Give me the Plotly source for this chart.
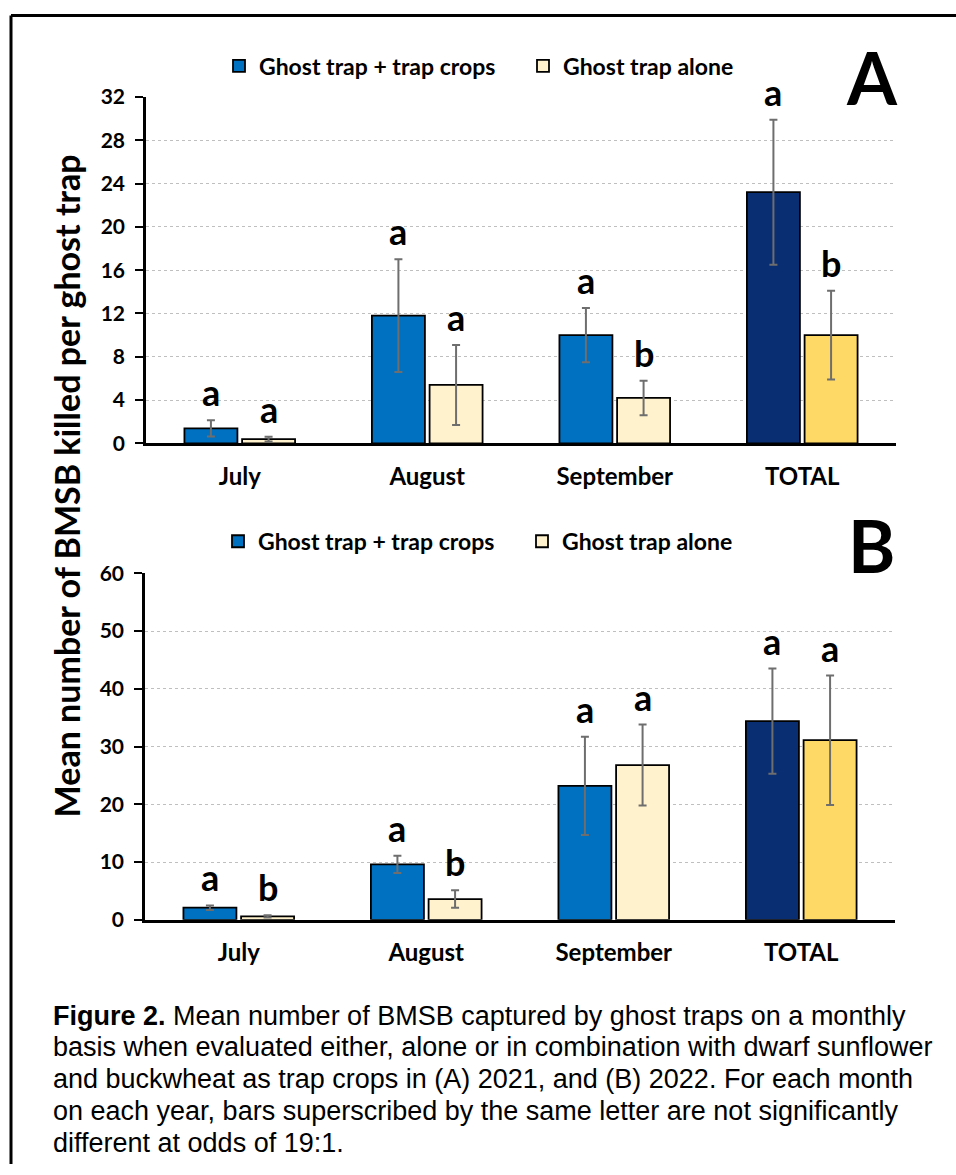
import plotly.graph_objects as go

# ---------------- data ----------------
months = ["July", "August", "September", "TOTAL"]
series_names = ["Ghost trap + trap crops", "Ghost trap alone"]

# Panel A (2021)
a_combo = [1.4, 11.8, 10.0, 23.2]
a_combo_err = [0.75, 5.2, 2.5, 6.7]
a_alone = [0.4, 5.4, 4.2, 10.0]
a_alone_err = [0.22, 3.7, 1.6, 4.1]
a_combo_letters = ["a", "a", "a", "a"]
a_alone_letters = ["a", "a", "b", "b"]

# Panel B (2022)
b_combo = [2.1, 9.6, 23.2, 34.4]
b_combo_err = [0.4, 1.5, 8.5, 9.1]
b_alone = [0.6, 3.6, 26.8, 31.1]
b_alone_err = [0.2, 1.5, 7.0, 11.2]
b_combo_letters = ["a", "a", "a", "a"]
b_alone_letters = ["b", "b", "a", "a"]

a_ticks = [0, 4, 8, 12, 16, 20, 24, 28, 32]
b_ticks = [0, 10, 20, 30, 40, 50, 60]

combo_colors = ["#0070C0", "#0070C0", "#0070C0", "#0A2E72"]
alone_colors = ["#FFF2CC", "#FFF2CC", "#FFF2CC", "#FFD966"]

caption_lines = [
    "<b>Figure 2.</b> Mean number of BMSB captured by ghost traps on a monthly",
    "basis when evaluated either, alone or in combination with dwarf sunflower",
    "and buckwheat as trap crops in (A) 2021, and (B) 2022. For each month",
    "on each year, bars superscribed by the same letter are not significantly",
    "different at odds of 19:1.",
]

FONT = "Lato"
W, H = 956, 1175
ERR_COLOR = "#6E6E6E"


def px_x(p):
    return p / W


def vy(p):
    # vertical page position (px from top) -> paper fraction,
    # compensating the small vertical offset/scale seen in the rendered picture
    return 1 - ((p - 12) / 0.98) / H


fig = go.Figure()


def add_bar(x, y, err, colors, name, xa, ya, legend):
    fig.add_trace(go.Bar(
        x=x, y=y, name=name, xaxis=xa, yaxis=ya, legend=legend,
        marker=dict(color=colors, line=dict(color="#000000", width=1.8)),
        error_y=dict(type="data", array=err, visible=True,
                     color=ERR_COLOR, thickness=2, width=4),
    ))


add_bar(months, a_combo, a_combo_err, combo_colors, series_names[0], "x", "y", "legend")
add_bar(months, a_alone, a_alone_err, alone_colors, series_names[1], "x", "y", "legend")
add_bar(months, b_combo, b_combo_err, combo_colors, series_names[0], "x2", "y2", "legend2")
add_bar(months, b_alone, b_alone_err, alone_colors, series_names[1], "x2", "y2", "legend2")

annotations = []


def add_letters(vals, errs, letters, xref, yref, shift):
    for m, v, e, t in zip(months, vals, errs, letters):
        annotations.append(dict(
            x=m, y=v + e, xref=xref, yref=yref, text="<b>" + t + "</b>", showarrow=False,
            xanchor="center", yanchor="bottom", xshift=shift, yshift=4,
            font=dict(family=FONT, size=36, color="#000000"),
        ))


SH = 28.8
add_letters(a_combo, a_combo_err, a_combo_letters, "x", "y", -SH)
add_letters(a_alone, a_alone_err, a_alone_letters, "x", "y", SH)
add_letters(b_combo, b_combo_err, b_combo_letters, "x2", "y2", -SH)
add_letters(b_alone, b_alone_err, b_alone_letters, "x2", "y2", SH)

# panel labels
annotations.append(dict(x=px_x(872), y=vy(75), xref="paper", yref="paper", text="<b>A</b>",
                        showarrow=False, xanchor="center", yanchor="middle",
                        font=dict(family=FONT, size=72, color="#000000")))
annotations.append(dict(x=px_x(871), y=vy(544), xref="paper", yref="paper", text="<b>B</b>",
                        showarrow=False, xanchor="center", yanchor="middle",
                        font=dict(family=FONT, size=72, color="#000000")))
# shared y-axis title
annotations.append(dict(x=px_x(66), y=vy(485), xref="paper", yref="paper",
                        text="<b>Mean number of BMSB killed per ghost trap</b>",
                        textangle=-90, showarrow=False, xanchor="center", yanchor="middle",
                        font=dict(family=FONT, size=34, color="#000000")))
# caption, one annotation per line
for i, line in enumerate(caption_lines):
    annotations.append(dict(x=px_x(51), y=vy(1015 + 31.8 * i), xref="paper", yref="paper",
                            text=line, align="left", showarrow=False,
                            xanchor="left", yanchor="middle",
                            font=dict(family="Liberation Sans", size=27, color="#000000")))

xaxis_common = dict(
    type="category", showline=True, linecolor="#000000", linewidth=2.5,
    ticks="", showgrid=False,
    tickfont=dict(family=FONT, size=24, color="#000000", weight="bold"),
    ticklabelstandoff=10, fixedrange=True,
)
yaxis_common = dict(
    showline=True, linecolor="#000000", linewidth=2.5, ticks="outside", ticklen=8,
    tickwidth=2, tickcolor="#000000", showgrid=True, gridcolor="#BFBFBF", griddash="dot",
    gridwidth=1, zeroline=False,
    tickfont=dict(family=FONT, size=21, color="#000000", weight="bold"),
    ticklabelstandoff=6, fixedrange=True,
)

legend_common = dict(
    orientation="h", xanchor="left", yanchor="middle",
    font=dict(family=FONT, size=23, color="#000000", weight="bold"),
    bgcolor="rgba(0,0,0,0)", entrywidth=259, entrywidthmode="pixels",
    itemclick=False, itemdoubleclick=False,
)

fig.update_layout(
    width=W, height=H, margin=dict(l=0, r=0, t=0, b=0),
    paper_bgcolor="#FFFFFF", plot_bgcolor="#FFFFFF",
    barmode="group", bargap=0.385, bargroupgap=0.081,
    xaxis=dict(domain=[px_x(146), px_x(896)], anchor="y", **xaxis_common),
    yaxis=dict(domain=[vy(442), vy(95)], anchor="x", range=[0, 32],
               tickvals=a_ticks, **yaxis_common),
    xaxis2=dict(domain=[px_x(145), px_x(895)], anchor="y2", **xaxis_common),
    yaxis2=dict(domain=[vy(919), vy(572)], anchor="x2", range=[0, 60],
                tickvals=b_ticks, **yaxis_common),
    legend=dict(x=px_x(219), y=vy(64), **legend_common),
    legend2=dict(x=px_x(218), y=vy(540), **legend_common),
    annotations=annotations,
    shapes=[
        dict(type="line", xref="paper", yref="paper", x0=px_x(11), x1=1,
             y0=1 - 1.5 / H, y1=1 - 1.5 / H, line=dict(color="#000000", width=3)),
        dict(type="line", xref="paper", yref="paper", x0=px_x(11), x1=px_x(11),
             y0=1 - 1.5 / H, y1=0, line=dict(color="#000000", width=3)),
    ],
)

post = (
    "document.body.style.margin='0';document.body.style.padding='0';"
    "document.body.style.overflow='hidden';"
    "document.documentElement.style.overflow='hidden';"
)

fig.write_html("out.html", config={"displayModeBar": False}, post_script=post)
